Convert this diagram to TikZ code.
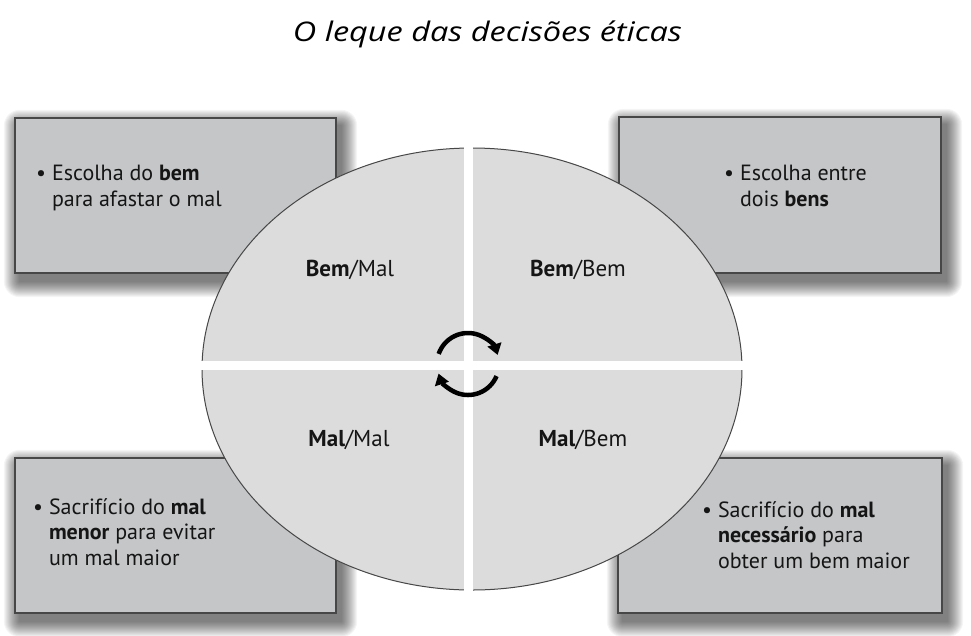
\documentclass[tikz,border=0pt]{standalone}
\usepackage{fontspec}
\setmainfont{PT Sans}
\newfontfamily\titlefont{Open Sans}
\usetikzlibrary{calc,arrows.meta,shapes.geometric}
\definecolor{boxfill}{HTML}{C4C6C8}
\definecolor{ellfill}{HTML}{DCDCDC}
\definecolor{edge}{HTML}{474747}
\definecolor{ink}{HTML}{151515}
\tikzset{
  panel/.style={draw=edge, line width=1.3pt, fill=boxfill, minimum width=321pt, minimum height=155pt, inner sep=0pt},
  paneltext/.style={anchor=north west, align=left, font=\fontsize{22}{25.5}\selectfont, text=ink, inner sep=0pt},
  quad/.style={font=\fontsize{23}{26}\selectfont, text=ink, inner sep=0pt},
  cyc/.style={line width=4.5pt, draw=black, -{Triangle[length=11pt,width=14pt]}}
}
\newcommand{\softshadow}[1]{%
  \foreach \i in {1,...,16}{%
    \fill[black, opacity=0.04, rounded corners=\i pt]
      ($(#1.north west)+(5-\i,8-\i)$) rectangle ($(#1.south east)+(5+\i,8+\i)$);
  }%
}
\begin{document}
\begin{tikzpicture}[x=1pt,y=-1pt]
\useasboundingbox[fill=white] (0,0) rectangle (971,635);

\node[font=\titlefont\itshape\fontsize{27}{30}\selectfont, text=black, anchor=base, inner sep=0pt] (title) at (487.5,41) {\resizebox{389pt}{\height}{O leque das decisões éticas}};

% panels
\path (175.5,195.5) node[minimum width=321pt, minimum height=155pt] (tlp) {};
\path (780,195) node[minimum width=322pt, minimum height=156pt] (trp) {};
\path (175.5,535.5) node[minimum width=321pt, minimum height=155pt] (blp) {};
\path (780,535.5) node[minimum width=324pt, minimum height=155pt] (brp) {};
\softshadow{tlp}
\softshadow{trp}
\softshadow{blp}
\softshadow{brp}
\node[panel] (tl) at (tlp) {};
\node[panel, minimum width=322pt, minimum height=156pt] (tr) at (trp) {};
\node[panel] (bl) at (blp) {};
\node[panel, minimum width=324pt] (br) at (brp) {};

\node[paneltext] (tlt) at (36,165) {• Escolha do \textbf{bem}\\\phantom{• }para afastar o mal};
\node[paneltext] (trt) at (724,165) {• Escolha entre\\\phantom{• }dois \textbf{bens}};
\node[paneltext] (blt) at (33,498) {• Sacrifício do \textbf{mal}\\\phantom{• }\textbf{menor} para evitar\\\phantom{• }um mal maior};
\node[paneltext] (brt) at (702,501) {• Sacrifício do \textbf{mal}\\\phantom{• }\textbf{necessário} para\\\phantom{• }obter um bem maior};

% oval
\node[ellipse, draw=edge, line width=1pt, fill=ellfill, minimum width=540pt, minimum height=442pt, inner sep=0pt] (oval) at (472,369) {};
\begin{scope}
  \clip (472,369) ellipse [x radius=271, y radius=222];
  \fill[white] (463.5,140) rectangle (472.5,600);
  \fill[white] (195,360.5) rectangle (750,369.5);
\end{scope}

\node[quad] (q1) at (350,270) {\textbf{Bem}/Mal};
\node[quad] (q2) at (578,270) {\textbf{Bem}/Bem};
\node[quad] (q3) at (349,440) {\textbf{Mal}/Mal};
\node[quad] (q4) at (583,440) {\textbf{Mal}/Bem};

% cycle arrows
\coordinate (c) at (468,364);
\draw[cyc] ($(c)+(199:31)$) arc[start angle=199, end angle=343, radius=31];
\draw[cyc] ($(c)+(23:31)$) arc[start angle=23, end angle=162, radius=31];
\end{tikzpicture}
\end{document}
